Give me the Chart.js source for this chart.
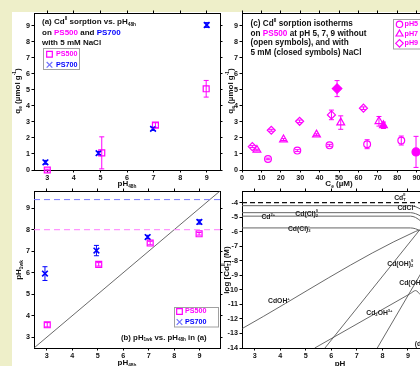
<!DOCTYPE html>
<html>
<head>
<meta charset="utf-8">
<script src="https://cdn.jsdelivr.net/npm/chart.js@4.4.1/dist/chart.umd.min.js"></script>
<style>
  html, body { margin: 0; padding: 0; width: 420px; height: 366px; overflow: hidden; background: #eeefc9; }
  #sheet { position: absolute; left: 12px; top: 12px; width: 408px; height: 354px; background: #fff; }
  canvas { position: absolute; left: 0; top: 0; }
</style>
</head>
<body>
<div id="sheet"></div>
<canvas id="chartA" width="460" height="366"></canvas>
<canvas id="chartB" width="460" height="366"></canvas>
<canvas id="chartC" width="460" height="366"></canvas>
<canvas id="chartD" width="460" height="366"></canvas>
<script>
// ---- tick labels ----
const pHTicks = [3, 4, 5, 6, 7, 8, 9];
const qTicks = [0, 1, 2, 3, 4, 5, 6, 7, 8, 9];
const pH1wkTicks = [3, 4, 5, 6, 7, 8, 9];
const ceTicks = [0, 10, 20, 30, 40, 50, 60, 70, 80, 90, 100];
const logTicks = [-4, -5, -6, -7, -8, -9, -10, -11, -12, -13, -14];

// ---- (a) Cd(II) sorption vs pH48h ----
const ph48A500 = [3.0, 5.05, 7.07, 8.98];
const qA500 = [0.0, 1.07, 2.8, 5.07];
const qErrA500 = [0.05, 1.0, 0.15, 0.52];
const ph48A700 = [2.93, 4.93, 6.98, 9.0];
const qA700 = [0.48, 1.05, 2.57, 9.05];
const qErrA700 = [0.12, 0.1, 0.1, 0.15];

// ---- (b) pH1wk vs pH48h ----
const ph48B500 = [3.02, 5.04, 7.06, 8.98];
const ph1wkB500 = [3.58, 6.39, 7.38, 7.81];
const ph1wkErrB500 = [0.1, 0.08, 0.08, 0.06];
const ph48B700 = [2.93, 4.95, 6.96, 8.99];
const ph1wkB700 = [5.96, 7.03, 7.66, 8.36];
const ph1wkErrB700 = [0.32, 0.24, 0.08, 0.1];
const refLineX = [2.5, 9.8];
const oneToOne = [2.5, 9.8];
const plateau500 = [8.0, 8.0];
const plateau700 = [9.4, 9.4];

// ---- (c) isotherms on PS500 ----
const ceOpen5 = [13.4, 28.5, 45.1, 64.5, 82.1];
const qOpen5 = [0.69, 1.21, 1.54, 1.61, 1.84];
const qErrOpen5 = [0.05, 0.06, 0.06, 0.28, 0.28];
const ceOpen7 = [7.7, 21.4, 38.4, 50.9, 70.6];
const qOpen7 = [1.25, 1.9, 2.21, 2.96, 3.04];
const qErrOpen7 = [0.05, 0.06, 0.05, 0.42, 0.3];
const ceOpen9 = [5.3, 15.1, 29.7, 46.1, 62.6];
const qOpen9 = [1.46, 2.48, 3.04, 3.44, 3.86];
const qErrOpen9 = [0.06, 0.06, 0.08, 0.3, 0.08];
const ceNaCl5 = [89.7];
const qNaCl5 = [1.13];
const qErrNaCl5 = [0.97];
const ceNaCl7 = [72.9];
const qNaCl7 = [2.79];
const qErrNaCl7 = [0.2];
const ceNaCl9 = [49.0];
const qNaCl9 = [5.08];
const qErrNaCl9 = [0.5];

// ---- (d) speciation, log concentration vs pH ----
const cdTotPH = [2.5, 10.1];
const cdTotLog = [-4.0, -4.0];
const cdClPH = [2.5, 9.1, 9.3, 9.5];
const cdClLog = [-4.21, -4.21, -4.28, -4.45];
const cdCl2PH = [2.5, 9.1, 9.3, 9.5];
const cdCl2Log = [-4.69, -4.69, -4.76, -4.92];
const cdFreePH = [2.5, 9.1, 9.3, 9.5];
const cdFreeLog = [-4.93, -4.93, -5.02, -5.26];
const cdCl3PH = [2.5, 9.1, 9.3, 9.5];
const cdCl3Log = [-5.74, -5.74, -5.8, -5.95];
const cdOHPH = [2.5, 9.3, 9.5];
const cdOHLog = [-12.67, -5.98, -5.86];
const cdOH2PH = [5.75, 9.45];
const cdOH2Log = [-14.0, -5.9];
const cdOH3PH = [7.8, 9.5];
const cdOH3Log = [-14.0, -8.9];
const cd2OHPH = [5.35, 9.1, 9.3, 9.5];
const cd2OHLog = [-14.0, -10.25, -10.05, -10.35];

const FONT = '"Liberation Sans", Arial, sans-serif';
const MAG = '#ff00ff';
const BLUE = '#0000ff';
const INK = '#111111';
const NONE = 'rgba(0,0,0,0)';
Chart.defaults.font.family = FONT;

const pts = (xs, ys) => xs.map((x, i) => ({ x, y: ys[i] }));

// text with sub/superscripts; parts are strings or {t, k:'sup'|'sub', c, stack}
function rich(ctx, x, y, parts, size, align, color) {
  const items = parts.map(p => (typeof p === 'string' ? { t: p } : p));
  let cx = 0, prevX = 0, prevW = 0;
  const placed = items.map(it => {
    const s = it.k ? size * 0.6 : size;
    ctx.font = `bold ${s}px ${FONT}`;
    const w = ctx.measureText(it.t).width;
    let px = cx;
    if (it.stack) { px = prevX; cx = prevX + Math.max(prevW, w); }
    else cx += w;
    prevX = px; prevW = w;
    return Object.assign({}, it, { s, px });
  });
  const start = align === 'center' ? x - cx / 2 : x;
  ctx.save();
  ctx.textBaseline = 'middle';
  ctx.textAlign = 'left';
  placed.forEach(it => {
    ctx.font = `bold ${it.s}px ${FONT}`;
    ctx.fillStyle = it.c || color || INK;
    const dy = it.k === 'sup' ? -size * 0.38 : it.k === 'sub' ? size * 0.34 : 0;
    ctx.fillText(it.t, start + it.px, y + dy);
  });
  ctx.restore();
}

function richV(ctx, x, y, parts, size) {
  ctx.save();
  ctx.translate(x, y);
  ctx.rotate(-Math.PI / 2);
  rich(ctx, 0, 0, parts, size, 'center');
  ctx.restore();
}

function legendBox(ctx, x, y, w, h) {
  ctx.save();
  ctx.strokeStyle = '#a0a0a0';
  ctx.lineWidth = 1;
  ctx.strokeRect(x + 0.5, y + 0.5, w, h);
  ctx.restore();
}

function marker(ctx, style, x, y, r, color, filled, bw) {
  ctx.save();
  ctx.strokeStyle = color;
  ctx.fillStyle = filled ? color : NONE;
  Chart.helpers.drawPoint(ctx, { pointStyle: style, radius: r, rotation: 0, borderWidth: bw || 1.2 }, x, y);
  ctx.restore();
}

// error bars from dataset.errs through the chart scales
const errorBars = {
  id: 'errorBars',
  afterDatasetsDraw(chart) {
    const ctx = chart.ctx;
    chart.data.datasets.forEach((ds, i) => {
      if (!ds.errs) return;
      const meta = chart.getDatasetMeta(i);
      const ys = chart.scales[meta.yAxisID];
      ctx.save();
      ctx.strokeStyle = ds.pointBorderColor;
      ctx.lineWidth = 1;
      meta.data.forEach((pt, j) => {
        const e = ds.errs[j];
        if (!e) return;
        const v = ds.data[j].y;
        const y1 = ys.getPixelForValue(v - e);
        const y2 = ys.getPixelForValue(v + e);
        ctx.beginPath();
        ctx.moveTo(pt.x, y1); ctx.lineTo(pt.x, y2);
        ctx.moveTo(pt.x - 2.5, y1); ctx.lineTo(pt.x + 2.5, y1);
        ctx.moveTo(pt.x - 2.5, y2); ctx.lineTo(pt.x + 2.5, y2);
        ctx.stroke();
      });
      ctx.restore();
    });
  }
};

function frame(xMin, xMax, xTicks, yMin, yMax, yTicks) {
  const axis = (pos, min, max, arr, labels) => ({
    type: 'linear', position: pos, min, max,
    afterBuildTicks: s => { s.ticks = arr.map(v => ({ value: v })); },
    afterFit: s => {
      if (s.isHorizontal()) s.height = labels ? 14 : 3;
      else s.width = labels ? 22 : 3;
    },
    grid: { drawOnChartArea: false, drawTicks: true, tickLength: 2.5, tickColor: '#000', tickWidth: 1 },
    border: { display: true, color: '#000', width: 1 },
    ticks: { display: labels, color: INK, font: { size: 7.2, weight: 'bold' }, padding: 1.5, maxRotation: 0, autoSkip: false },
  });
  return {
    x: axis('bottom', xMin, xMax, xTicks, true),
    y: axis('left', yMin, yMax, yTicks, true),
    x2: axis('top', xMin, xMax, xTicks, false),
    y2: axis('right', yMin, yMax, yTicks, false),
  };
}

function makeChart(id, padding, scales, datasets, draw) {
  return new Chart(document.getElementById(id), {
    type: 'scatter',
    data: { datasets },
    options: {
      responsive: false,
      animation: false,
      devicePixelRatio: 1,
      layout: { padding },
      plugins: { legend: { display: false }, tooltip: { enabled: false } },
      scales,
    },
    plugins: [errorBars, { id: 'texts', afterDraw: chart => draw(chart.ctx, chart) }],
  });
}

const markerSet = (data, style, r, color, filled, errs) => ({
  data, errs, showLine: false, clip: false,
  pointStyle: style, pointRadius: r,
  pointBorderColor: color, pointBackgroundColor: filled ? color : NONE,
  pointBorderWidth: style === 'crossRot' ? 1.6 : 1.2,
  borderColor: color,
});

const lineSet = (data, color, width, dash) => ({
  data, showLine: true, pointRadius: 0, borderColor: color, borderWidth: width,
  borderDash: dash || [], cubicInterpolationMode: 'monotone', fill: false,
});

// ---- (a) ----
makeChart('chartA', { left: 12, top: 10, right: 237, bottom: 182 },
  frame(2.5, 9.5, pHTicks, 0, 9.8, qTicks),
  [
    markerSet(pts(ph48A500, qA500), 'rect', 4.2, MAG, false, qErrA500),
    markerSet(pts(ph48A700, qA700), 'crossRot', 4, BLUE, false, qErrA700),
  ],
  (ctx) => {
    rich(ctx, 42, 22, ['(a) Cd', { t: 'II', k: 'sup' }, ' sorption vs. pH', { t: '48h', k: 'sub' }], 8);
    rich(ctx, 42, 32.5, ['on ', { t: 'PS500', c: MAG }, ' and ', { t: 'PS700', c: BLUE }], 8);
    rich(ctx, 42, 43, ['with 5 mM NaCl'], 8);
    legendBox(ctx, 43, 48, 36, 21);
    marker(ctx, 'rect', 49.5, 54.3, 4, MAG, false, 1);
    rich(ctx, 56, 54.3, ['PS500'], 7.2, 'left', MAG);
    marker(ctx, 'crossRot', 49.5, 64.8, 4, '#7070ff', false, 1);
    rich(ctx, 56, 64.8, ['PS700'], 7.2, 'left', BLUE);
    richV(ctx, 18, 91, ['q', { t: 'e', k: 'sub' }, ' (\u00b5mol g', { t: '-1', k: 'sup' }, ')'], 8);
    rich(ctx, 127, 184, ['pH', { t: '48h', k: 'sub' }], 8, 'center');
  });

// ---- (b) ----
makeChart('chartB', { left: 12, top: 188, right: 237, bottom: 4 },
  frame(2.5, 9.8, pHTicks, 2.5, 9.8, pH1wkTicks),
  [
    lineSet(pts(refLineX, plateau700), '#7a7aff', 1, [6, 4]),
    lineSet(pts(refLineX, plateau500), '#ff7aff', 1, [6, 4]),
    lineSet(pts(oneToOne, oneToOne), '#444', 0.8),
    markerSet(pts(ph48B500, ph1wkB500), 'rect', 4.2, MAG, false, ph1wkErrB500),
    markerSet(pts(ph48B700, ph1wkB700), 'crossRot', 4, BLUE, false, ph1wkErrB700),
  ],
  (ctx) => {
    legendBox(ctx, 174, 307, 44, 19.5);
    marker(ctx, 'rect', 179.5, 311.5, 4, MAG, false, 1);
    rich(ctx, 185, 311.5, ['PS500'], 7.2, 'left', MAG);
    marker(ctx, 'crossRot', 179.5, 322, 4, '#7070ff', false, 1);
    rich(ctx, 185, 322, ['PS700'], 7.2, 'left', BLUE);
    rich(ctx, 121, 337.5, ['(b) pH', { t: '1wk', k: 'sub' }, ' vs. pH', { t: '48h', k: 'sub' }, ' in (a)'], 7.8);
    richV(ctx, 19, 270, ['pH', { t: '1wk', k: 'sub' }], 8);
    rich(ctx, 127, 363, ['pH', { t: '48h', k: 'sub' }], 8, 'center');
  });

// ---- (c) ----
makeChart('chartC', { left: 220, top: 10, right: 21, bottom: 182 },
  frame(0, 100, ceTicks, 0, 9.8, qTicks),
  [
    markerSet(pts(ceOpen5, qOpen5), 'circle', 3.4, MAG, false, qErrOpen5),
    markerSet(pts(ceOpen7, qOpen7), 'triangle', 4.5, MAG, false, qErrOpen7),
    markerSet(pts(ceOpen9, qOpen9), 'rectRot', 4, MAG, false, qErrOpen9),
    markerSet(pts(ceNaCl5, qNaCl5), 'circle', 4, MAG, true, qErrNaCl5),
    markerSet(pts(ceNaCl7, qNaCl7), 'triangle', 4.5, MAG, true, qErrNaCl7),
    markerSet(pts(ceNaCl9, qNaCl9), 'rectRot', 4.8, MAG, true, qErrNaCl9),
  ],
  (ctx) => {
    rich(ctx, 250.5, 23.5, ['(c) Cd', { t: 'II', k: 'sup' }, ' sorption isotherms'], 8.2);
    rich(ctx, 250.5, 33.3, ['on ', { t: 'PS500', c: MAG }, ' at pH 5, 7, 9 without'], 8.2);
    rich(ctx, 250.5, 43, ['(open symbols), and with'], 8.2);
    rich(ctx, 250.5, 52.6, ['5 mM (closed symbols) NaCl'], 8.2);
    legendBox(ctx, 393, 19, 44, 29.5);
    marker(ctx, 'circle', 399.5, 24.3, 3.2, MAG, false, 1.1);
    rich(ctx, 404.5, 24.3, ['pH5'], 7.2, 'left', MAG);
    marker(ctx, 'triangle', 399.5, 34, 4, MAG, false, 1.1);
    rich(ctx, 404.5, 33.8, ['pH7'], 7.2, 'left', MAG);
    marker(ctx, 'rectRot', 399.5, 43.3, 3.8, MAG, false, 1.1);
    rich(ctx, 404.5, 43.3, ['pH9'], 7.2, 'left', MAG);
    richV(ctx, 230.5, 91, ['q', { t: 'e', k: 'sub' }, ' (\u00b5mol g', { t: '-1', k: 'sup' }, ')'], 8);
    rich(ctx, 339, 184, ['C', { t: 'e', k: 'sub' }, ' (\u00b5M)'], 8, 'center');
  });

// ---- (d) ----
const speciesLabels = [
  [['Cd', { t: 'II', k: 'sup' }, { t: 'T', k: 'sub', stack: true }], 8.46, -3.66],
  [['CdCl', { t: '+', k: 'sup' }], 8.59, -4.39],
  [['Cd(Cl)', { t: '2', k: 'sub' }, { t: '0', k: 'sup', stack: true }], 4.59, -4.76],
  [['Cd', { t: '2+', k: 'sup' }], 3.26, -5.03],
  [['Cd(Cl)', { t: '3', k: 'sub' }, { t: '-', k: 'sup', stack: true }], 4.3, -5.79],
  [['CdOH', { t: '+', k: 'sup' }], 3.52, -10.79],
  [['Cd(OH)', { t: '2', k: 'sub' }, { t: '0', k: 'sup', stack: true }], 8.19, -8.21],
  [['Cd(OH)', { t: '3', k: 'sub' }, { t: '-', k: 'sup', stack: true }], 8.66, -9.57],
  [['Cd', { t: '2', k: 'sub' }, 'OH', { t: '3+', k: 'sup' }], 7.37, -11.59],
  [['(d)'], 9.27, -13.72],
];

makeChart('chartD', { left: 220, top: 188, right: 21, bottom: 4 },
  frame(2.5, 10.1, pHTicks, -14, -3.2, logTicks),
  [
    lineSet(pts(cdTotPH, cdTotLog), '#111', 1.4, [5, 3]),
    lineSet(pts(cdClPH, cdClLog), '#666', 1),
    lineSet(pts(cdCl2PH, cdCl2Log), '#666', 1),
    lineSet(pts(cdFreePH, cdFreeLog), '#666', 1),
    lineSet(pts(cdCl3PH, cdCl3Log), '#666', 1),
    lineSet(pts(cdOHPH, cdOHLog), '#444', 0.8),
    lineSet(pts(cdOH2PH, cdOH2Log), '#444', 0.8),
    lineSet(pts(cdOH3PH, cdOH3Log), '#444', 0.8),
    lineSet(pts(cd2OHPH, cd2OHLog), '#444', 0.8),
  ],
  (ctx, chart) => {
    const xs = chart.scales.x, ys = chart.scales.y;
    speciesLabels.forEach(([parts, px, py]) => {
      rich(ctx, xs.getPixelForValue(px), ys.getPixelForValue(py), parts, 6.8, 'left', '#222');
    });
    richV(ctx, 226.5, 270, ['log [Cd', { t: 'II', k: 'sup' }, { t: 'T', k: 'sub', stack: true }, '] (M)'], 8);
    rich(ctx, 340, 364, ['pH'], 8, 'center');
  });
</script>
</body>
</html>
